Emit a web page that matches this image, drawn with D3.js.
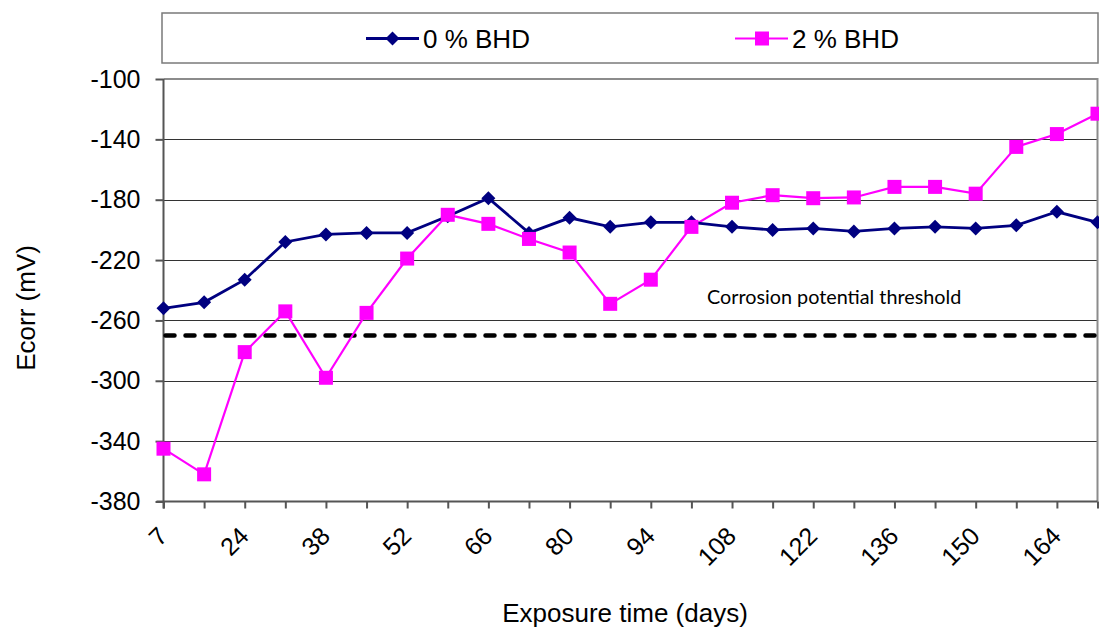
<!DOCTYPE html>
<html>
<head>
<meta charset="utf-8">
<script src="https://cdn.jsdelivr.net/npm/d3@7"></script>
<style>
  html, body { margin: 0; padding: 0; background: #fff; }
  svg { display: block; }
</style>
</head>
<body>
<svg id="chart" width="1099" height="630" font-family="Liberation Sans, Arial, sans-serif"></svg>
<script>
// Exposure time categories (days)
const categories = ["7","14","24","31","38","45","52","59","66","73","80","87",
                    "94","101","108","115","122","129","136","143","150","157","164","171"];
// Corrosion potential, mV
const bhd0 = [-252,-248,-233,-208,-203,-202,-202,-191,-179,-202,-192,-198,
              -195,-195,-198,-200,-199,-201,-199,-198,-199,-197,-188,-195];
const bhd2 = [-345,-362,-281,-254,-298,-255,-219,-190,-196,-206,-215,-249,
              -233,-198,-182,-177,-179,-178.5,-171.5,-171.5,-176,-145,-136.5,-123];
const seriesNames = ["0 % BHD", "2 % BHD"];
const yTicks = [-100,-140,-180,-220,-260,-300,-340,-380];
const threshold = -270;
const thresholdLabel = "Corrosion potential threshold";

const svg = d3.select("#chart");
const plotL = 163.5, plotR = 1097.5, plotT = 79, plotB = 501.5;
const FONT = "Liberation Sans, Arial, sans-serif";

const x = d3.scalePoint().domain(categories).range([plotL, plotR]);
const y = d3.scaleLinear().domain([-380, -100]).range([plotB, plotT]);

// Horizontal gridlines
svg.append("g").selectAll("line")
  .data(yTicks.filter(v => v !== -380 && v !== -100))
  .join("line")
  .attr("x1", plotL).attr("x2", plotR)
  .attr("y1", d => Math.round(y(d)) + 0.5).attr("y2", d => Math.round(y(d)) + 0.5)
  .attr("stroke", "#333").attr("stroke-width", 1);

// Plot area frame (top and right)
svg.append("path")
  .attr("d", `M${plotL},${plotT}H${plotR}V${plotB}`)
  .attr("fill", "none").attr("stroke", "#8c8c8c").attr("stroke-width", 2);

// Y axis
const yAxis = svg.append("g")
  .attr("transform", `translate(${plotL},0)`)
  .call(d3.axisLeft(y).tickValues(yTicks).tickSize(8).tickPadding(15)
    .tickFormat(d => String(d)));
yAxis.select(".domain").attr("d", `M0,${plotT}V${plotB + 7}`);
yAxis.selectAll("path,line").attr("stroke", "#555").attr("stroke-width", 2);
yAxis.selectAll("text").attr("font-size", 25).attr("font-family", FONT).attr("fill", "#000");

// X axis
const xAxis = svg.append("g")
  .attr("transform", `translate(0,${plotB})`)
  .call(d3.axisBottom(x).tickSize(7)
    .tickFormat((d, i) => i % 2 === 0 ? d : ""));
xAxis.select(".domain").attr("d", `M${plotL - 7},0H${plotR}`);
xAxis.selectAll("path,line").attr("stroke", "#555").attr("stroke-width", 2);
xAxis.selectAll("text")
  .attr("font-size", 25).attr("font-family", FONT).attr("fill", "#000")
  .attr("text-anchor", "end")
  .attr("x", 0).attr("y", 0).attr("dy", "0.35em")
  .attr("transform", "translate(-1,30) rotate(-45)");

// Threshold line
svg.append("line")
  .attr("x1", plotL + 2).attr("x2", plotR - 2)
  .attr("y1", y(threshold)).attr("y2", y(threshold))
  .attr("stroke", "#000").attr("stroke-width", 4.5)
  .attr("stroke-dasharray", "9,11").attr("stroke-linecap", "round");

svg.append("text")
  .attr("x", 707).attr("y", 304)
  .attr("font-family", "Lato, 'Open Sans', sans-serif").attr("font-size", 19.8)
  .attr("fill", "#000")
  .text(thresholdLabel);

// Series
const line = d3.line().x((d, i) => x(categories[i])).y(d => y(d));

svg.append("path").datum(bhd2)
  .attr("d", line).attr("fill", "none")
  .attr("stroke", "#ff00ff").attr("stroke-width", 2.2);
svg.append("path").datum(bhd0)
  .attr("d", line).attr("fill", "none")
  .attr("stroke", "#000080").attr("stroke-width", 2.8);

svg.append("g").selectAll("path")
  .data(bhd0).join("path")
  .attr("transform", (d, i) => `translate(${x(categories[i])},${y(d)}) rotate(45)`)
  .attr("d", d3.symbol().type(d3.symbolSquare).size(98))
  .attr("fill", "#000080");

svg.append("g").selectAll("rect")
  .data(bhd2).join("rect")
  .attr("x", (d, i) => x(categories[i]) - 7).attr("y", d => y(d) - 7)
  .attr("width", 14).attr("height", 14)
  .attr("fill", "#ff00ff");

// Legend
const legend = svg.append("g");
legend.append("rect")
  .attr("x", 162).attr("y", 13).attr("width", 936).attr("height", 50)
  .attr("fill", "#fff").attr("stroke", "#7a7a7a").attr("stroke-width", 1.5);

const legendItems = [
  { name: seriesNames[0], color: "#000080", x0: 366, marker: "diamond" },
  { name: seriesNames[1], color: "#ff00ff", x0: 735, marker: "square" }
];
legendItems.forEach(it => {
  const g = legend.append("g");
  g.append("line").attr("x1", it.x0).attr("x2", it.x0 + 53)
    .attr("y1", 38.5).attr("y2", 38.5)
    .attr("stroke", it.color).attr("stroke-width", it.marker === "diamond" ? 2.8 : 2.2);
  if (it.marker === "diamond") {
    g.append("path")
      .attr("transform", `translate(${it.x0 + 26.5},38.5) rotate(45)`)
      .attr("d", d3.symbol().type(d3.symbolSquare).size(98))
      .attr("fill", it.color);
  } else {
    g.append("rect").attr("x", it.x0 + 20).attr("y", 31.5)
      .attr("width", 14).attr("height", 14).attr("fill", it.color);
  }
  g.append("text").attr("x", it.x0 + 57).attr("y", 48)
    .attr("font-size", 26).attr("fill", "#000").text(it.name);
});

// Axis titles
svg.append("text")
  .attr("x", 625).attr("y", 622)
  .attr("text-anchor", "middle").attr("font-size", 26).attr("fill", "#000")
  .text("Exposure time (days)");

svg.append("text")
  .attr("transform", "translate(35,308) rotate(-90)")
  .attr("text-anchor", "middle").attr("font-size", 26).attr("fill", "#000")
  .text("Ecorr (mV)");
</script>
</body>
</html>
